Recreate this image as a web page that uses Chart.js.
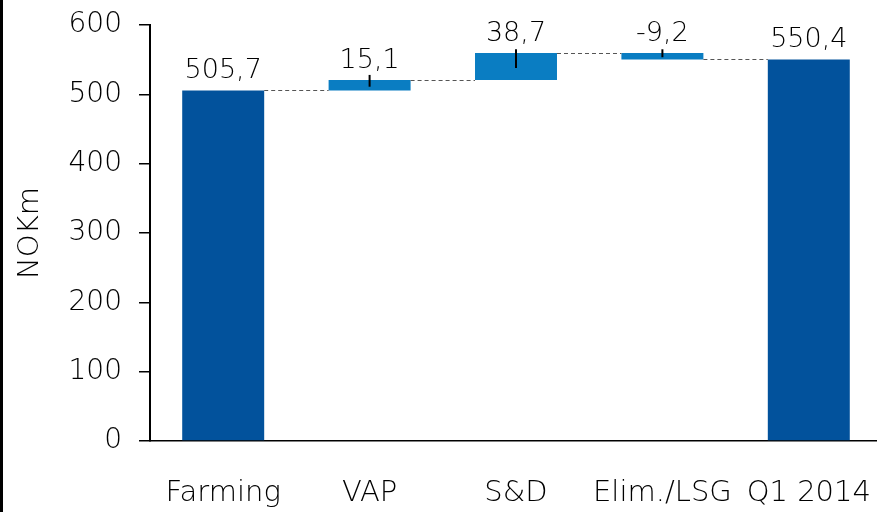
<!DOCTYPE html>
<html lang="en">
<head>
  <meta charset="UTF-8" />
  <title>Waterfall NOKm</title>
  <script src="https://cdn.jsdelivr.net/npm/chart.js"></script>
  <style>
    html, body { margin: 0; padding: 0; background: #fff; overflow: hidden; }
    #wrap { position: absolute; left: 0; top: 0; border-left: 3px solid #000; height: 512px; width: 879px; }
  </style>
</head>
<body>
  <div id="wrap">
    <canvas id="waterfall" width="879" height="512"></canvas>
  </div>

  <script>
    // data
    const categories = ['Farming', 'VAP', 'S&D', 'Elim./LSG', 'Q1 2014'];
    const values = [505.7, 15.1, 38.7, -9.2, 550.4];
    const valueLabels = ['505,7', '15,1', '38,7', '-9,2', '550,4'];
    const isTotal = [true, false, false, false, true];
    // the small black marks on the floating bars
    const markHigh = [null, 528, 565, 565, null];
    const markLow = [null, 511, 538, 553.5, null];
    const yMin = 0, yMax = 600, yStep = 100;

    const darkBlue = '#02529C';
    const lightBlue = '#0A7DC2';
    const font = 'DejaVu Sans';
    const weight = 300;

    let run = 0;
    const ranges = values.map((v, i) => {
      if (isTotal[i]) { run = v; return [0, v]; }
      const start = run;
      run += v;
      return [start, run];
    });

    const waterfallExtras = {
      id: 'waterfallExtras',
      afterDatasetsDraw(chart) {
        const ctx = chart.ctx;
        const meta = chart.getDatasetMeta(0);
        const y = chart.scales.y;
        ctx.save();

        // dashed connectors between bars
        ctx.strokeStyle = '#555';
        ctx.lineWidth = 1;
        ctx.setLineDash([4, 3]);
        for (let i = 0; i < meta.data.length - 1; i++) {
          const a = meta.data[i], b = meta.data[i + 1];
          const py = Math.round(y.getPixelForValue(ranges[i][1])) + 0.5;
          ctx.beginPath();
          ctx.moveTo(a.x + a.width / 2, py);
          ctx.lineTo(b.x - b.width / 2, py);
          ctx.stroke();
        }
        ctx.setLineDash([]);

        // small vertical marks
        ctx.strokeStyle = '#000';
        ctx.lineWidth = 2;
        meta.data.forEach((bar, i) => {
          if (markHigh[i] == null) return;
          ctx.beginPath();
          ctx.moveTo(bar.x, y.getPixelForValue(markHigh[i]));
          ctx.lineTo(bar.x, y.getPixelForValue(markLow[i]));
          ctx.stroke();
        });

        // value labels
        ctx.fillStyle = '#000';
        ctx.font = weight + ' 27px "' + font + '"';
        ctx.textAlign = 'center';
        ctx.textBaseline = 'alphabetic';
        meta.data.forEach((bar, i) => {
          const top = y.getPixelForValue(Math.max(ranges[i][0], ranges[i][1]));
          ctx.fillText(valueLabels[i], bar.x, top - 12);
        });
        ctx.restore();
      }
    };

    new Chart(document.getElementById('waterfall').getContext('2d'), {
      type: 'bar',
      data: {
        labels: categories,
        datasets: [{
          data: ranges,
          backgroundColor: isTotal.map(t => t ? darkBlue : lightBlue),
          borderWidth: 0,
          barPercentage: 0.56,
          categoryPercentage: 1
        }]
      },
      options: {
        responsive: false,
        animation: false,
        layout: { padding: { top: 25, left: 0, right: 0, bottom: 0 } },
        plugins: {
          legend: { display: false },
          tooltip: { enabled: false }
        },
        scales: {
          x: {
            grid: { display: false },
            border: { display: true, color: '#000', width: 1.5 },
            ticks: {
              color: '#000',
              font: { family: font, size: 29, weight: weight },
              padding: 27,
              maxRotation: 0,
              autoSkip: false
            },
            afterFit: s => { s.height = 71; s.paddingLeft = 0; s.paddingRight = 0; }
          },
          y: {
            min: yMin,
            max: yMax,
            ticks: {
              stepSize: yStep,
              color: '#000',
              font: { family: font, size: 28, weight: weight },
              padding: 17
            },
            grid: {
              display: true,
              drawOnChartArea: false,
              drawTicks: true,
              tickLength: 11,
              color: '#000',
              lineWidth: 1.5
            },
            border: { display: true, color: '#000', width: 2 },
            title: {
              display: true,
              text: 'NOKm',
              color: '#000',
              font: { family: font, size: 29, weight: weight },
              padding: { top: 10, bottom: 0 }
            },
            afterFit: s => { s.width = 147; s.paddingTop = 0; s.paddingBottom = 0; }
          }
        }
      },
      plugins: [waterfallExtras]
    });
  </script>
</body>
</html>
